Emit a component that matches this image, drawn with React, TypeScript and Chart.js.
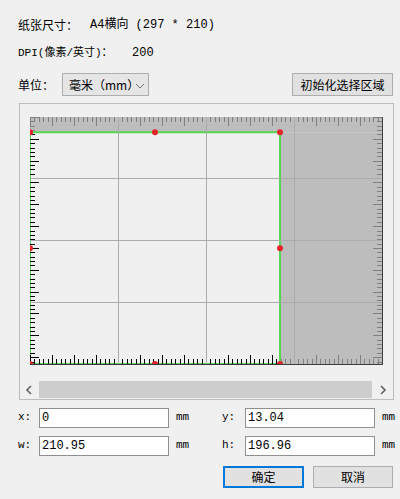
import React, { useEffect, useRef } from "react";
import { Chart, registerables } from "chart.js";

Chart.register(...registerables);

// ---- data ----
const paperSize = [297, 210]; // A4 landscape, mm
const selectionOrigin = [0, 13.04]; // x, y (mm)
const selectionSize = [210.95, 196.96]; // w, h (mm)
const gridDivisions = [4, 4]; // columns, rows
const rulerStep = 3.7125; // mm between ruler ticks
const rulerMajorEvery = 5; // every 5th tick is long
const dpiValue = 200;
const fieldLabels = ["x:", "y:", "w:", "h:"];
const fieldValues = ["0", "13.04", "210.95", "196.96"];
const unitLabel = "mm";

const [PW, PH] = paperSize;
const [SX, SY] = selectionOrigin;
const [SW, SH] = selectionSize;

const MONO = "'Liberation Mono', 'Noto Sans CJK SC', monospace";
const CJK = "'Noto Sans CJK SC', sans-serif";

const rect = (x0: number, y0: number, x1: number, y1: number) => [
  { x: x0, y: y0 },
  { x: x1, y: y0 },
  { x: x1, y: y1 },
  { x: x0, y: y1 },
  { x: x0, y: y0 },
];

const shadeRects = [
  rect(0, 0, PW, SY),
  rect(0, SY + SH, PW, PH),
  rect(0, SY, SX, SY + SH),
  rect(SX + SW, SY, PW, SY + SH),
];

const handleXs = [SX, SX + SW / 2, SX + SW];
const handleYs = [SY, SY + SH / 2, SY + SH];
const handles: { x: number; y: number }[] = [];
handleYs.forEach((y, j) =>
  handleXs.forEach((x, i) => {
    if (!(i === 1 && j === 1)) handles.push({ x, y });
  })
);

const rulerPlugin = {
  id: "ruler",
  beforeDatasetDraw(chart: any, args: any) {
    if (args.index !== 0) return;
    const { ctx, chartArea: a, scales } = chart;
    const xs = scales.x;
    const ys = scales.y;
    const inX = (v: number) => v >= SX - 0.01 && v <= SX + SW + 0.01;
    const inY = (v: number) => v >= SY - 0.01 && v <= SY + SH + 0.01;
    const dark = "#000000";
    const light = "#808080";
    const major = 9;
    const minor = 5;
    const line = (x1: number, y1: number, x2: number, y2: number, c: string) => {
      ctx.strokeStyle = c;
      ctx.beginPath();
      ctx.moveTo(x1, y1);
      ctx.lineTo(x2, y2);
      ctx.stroke();
    };
    ctx.save();
    ctx.lineWidth = 1;
    const nx = Math.floor(PW / rulerStep + 1e-6);
    for (let i = 0; i <= nx; i++) {
      const v = i * rulerStep;
      const p = Math.round(xs.getPixelForValue(v)) + 0.5;
      const len = i % rulerMajorEvery === 0 ? major : minor;
      line(p, a.top, p, a.top + len, inY(0) && inX(v) ? dark : light);
      line(p, a.bottom, p, a.bottom - len, inY(PH) && inX(v) ? dark : light);
    }
    const ny = Math.floor(PH / rulerStep + 1e-6);
    for (let j = 0; j <= ny; j++) {
      const v = j * rulerStep;
      const p = Math.round(ys.getPixelForValue(v)) + 0.5;
      const len = j % rulerMajorEvery === 0 ? major : minor;
      line(a.left, p, a.left + len, p, inX(0) && inY(v) ? dark : light);
      line(a.right, p, a.right - len, p, inX(PW) && inY(v) ? dark : light);
    }
    ctx.restore();
  },
};

function PaperChart() {
  const ref = useRef<HTMLCanvasElement>(null);
  useEffect(() => {
    if (!ref.current) return;
    const gridColor = (edge: number) => (c: any) =>
      c.tick && (Math.abs(c.tick.value) < 1e-6 || Math.abs(c.tick.value - edge) < 1e-6)
        ? "rgba(0,0,0,0)"
        : "#acacac";
    const chart = new Chart(ref.current, {
      type: "scatter",
      data: {
        datasets: [
          {
            data: handles,
            pointRadius: 3,
            pointBackgroundColor: "#e3242b",
            pointBorderWidth: 0,
            showLine: false,
          } as any,
          {
            data: rect(SX, SY, SX + SW, SY + SH),
            showLine: true,
            borderColor: "#55d655",
            borderWidth: 2,
            pointRadius: 0,
            fill: false,
          },
          ...shadeRects.map((r) => ({
            data: r,
            showLine: true,
            borderWidth: 0,
            pointRadius: 0,
            backgroundColor: "#bdbdbd",
            fill: "shape",
          })),
        ],
      },
      options: {
        responsive: false,
        animation: false,
        events: [],
        layout: { padding: { left: 10, top: 13, right: 10, bottom: 16 } },
        plugins: { legend: { display: false }, tooltip: { enabled: false } },
        scales: {
          x: {
            type: "linear",
            position: "bottom",
            min: 0,
            max: PW,
            ticks: { display: false, stepSize: PW / gridDivisions[0] },
            grid: { drawTicks: false, color: gridColor(PW), lineWidth: 1, z: 1 },
            border: { display: true, color: "#3c3c3c", width: 1, z: 1 },
          },
          y: {
            type: "linear",
            position: "right",
            reverse: true,
            min: 0,
            max: PH,
            ticks: { display: false, stepSize: PH / gridDivisions[1] },
            grid: { drawTicks: false, color: gridColor(PH), lineWidth: 1, z: 1 },
            border: { display: true, color: "#3c3c3c", width: 1, z: 1 },
          },
        },
      } as any,
      plugins: [rulerPlugin],
    });
    return () => chart.destroy();
  }, []);
  return (
    <canvas
      ref={ref}
      width={372}
      height={276}
      style={{ position: "absolute", left: 20, top: 104, width: 372, height: 276, display: "block" }}
    />
  );
}

function T({ x, y, size = 12, font = MONO, color = "#000", children }: any) {
  return (
    <div
      style={{
        position: "absolute",
        left: x,
        top: y - 9,
        height: 18,
        lineHeight: "18px",
        fontSize: size,
        fontFamily: font,
        color,
        whiteSpace: "nowrap",
      }}
    >
      {children}
    </div>
  );
}

function Box({ x, y, w, h, bg = "#e1e1e1", border = "1px solid #adadad", children, style }: any) {
  return (
    <div
      style={{
        position: "absolute",
        left: x,
        top: y,
        width: w,
        height: h,
        boxSizing: "border-box",
        background: bg,
        border,
        ...style,
      }}
    >
      {children}
    </div>
  );
}

function Field({ x, y, w, value }: any) {
  return (
    <Box x={x} y={y} w={w} h={20} bg="#ffffff" border="1px solid #8f8f8f">
      <div style={{ position: "absolute", left: 2, top: 0, lineHeight: "18px", fontSize: 12, fontFamily: MONO }}>
        {value}
      </div>
    </Box>
  );
}

export default function App() {
  return (
    <div
      style={{
        position: "absolute",
        left: 0,
        top: 0,
        width: 400,
        height: 499,
        background: "#f0f0f0",
        overflow: "hidden",
        fontFamily: CJK,
      }}
    >
      <T x={18} y={25} font={CJK}>纸张尺寸：</T>
      <T x={90} y={25}>A4横向 ({PW} * {PH})</T>
      <T x={18} y={53} size={11}>
        DPI(像素/英寸)：
      </T>
      <T x={132} y={53}>{dpiValue}</T>
      <T x={18} y={85} font={CJK}>单位：</T>
      <Box x={62} y={73} w={87} h={23} bg="#e5e5e5">
        <div style={{ position: "absolute", left: 6, top: 1, lineHeight: "19px", fontSize: 12, fontFamily: CJK }}>
          毫米（mm）
        </div>
        <svg width="10" height="6" style={{ position: "absolute", left: 72, top: 9 }}>
          <polyline points="1,1 5,5 9,1" fill="none" stroke="#707070" strokeWidth="1" />
        </svg>
      </Box>
      <Box x={292} y={73} w={101} h={23}>
        <div style={{ textAlign: "center", lineHeight: "21px", fontSize: 12, fontFamily: CJK }}>初始化选择区域</div>
      </Box>

      <Box x={19} y={103} w={375} h={297} bg="#f0f0f0" border="1px solid #bdbdbd" />
      <PaperChart />
      {/* scrollbar */}
      <Box x={20} y={381} w={373} h={17} bg="#f0f0f0" border="none">
        <svg width="8" height="10" style={{ position: "absolute", left: 5, top: 4 }}>
          <polyline points="6,1 2,5 6,9" fill="none" stroke="#606060" strokeWidth="1.6" />
        </svg>
        <div style={{ position: "absolute", left: 19, top: 0, width: 333, height: 17, background: "#cdcdcd" }} />
        <svg width="8" height="10" style={{ position: "absolute", left: 359, top: 4 }}>
          <polyline points="2,1 6,5 2,9" fill="none" stroke="#606060" strokeWidth="1.6" />
        </svg>
      </Box>

      <T x={18} y={417} size={11}>{fieldLabels[0]}</T>
      <Field x={39} y={408} w={130} value={fieldValues[0]} />
      <T x={176} y={417} size={11}>{unitLabel}</T>
      <T x={222} y={417} size={11}>{fieldLabels[1]}</T>
      <Field x={245} y={408} w={130} value={fieldValues[1]} />
      <T x={382} y={417} size={11}>{unitLabel}</T>

      <T x={18} y={445} size={11}>{fieldLabels[2]}</T>
      <Field x={39} y={436} w={130} value={fieldValues[2]} />
      <T x={176} y={445} size={11}>{unitLabel}</T>
      <T x={222} y={445} size={11}>{fieldLabels[3]}</T>
      <Field x={245} y={436} w={130} value={fieldValues[3]} />
      <T x={382} y={445} size={11}>{unitLabel}</T>

      <Box x={223} y={466} w={81} h={22} border="2px solid #0078d7">
        <div style={{ textAlign: "center", lineHeight: "18px", fontSize: 12, fontFamily: CJK }}>确定</div>
      </Box>
      <Box x={313} y={466} w={80} h={22}>
        <div style={{ textAlign: "center", lineHeight: "20px", fontSize: 12, fontFamily: CJK }}>取消</div>
      </Box>
    </div>
  );
}
